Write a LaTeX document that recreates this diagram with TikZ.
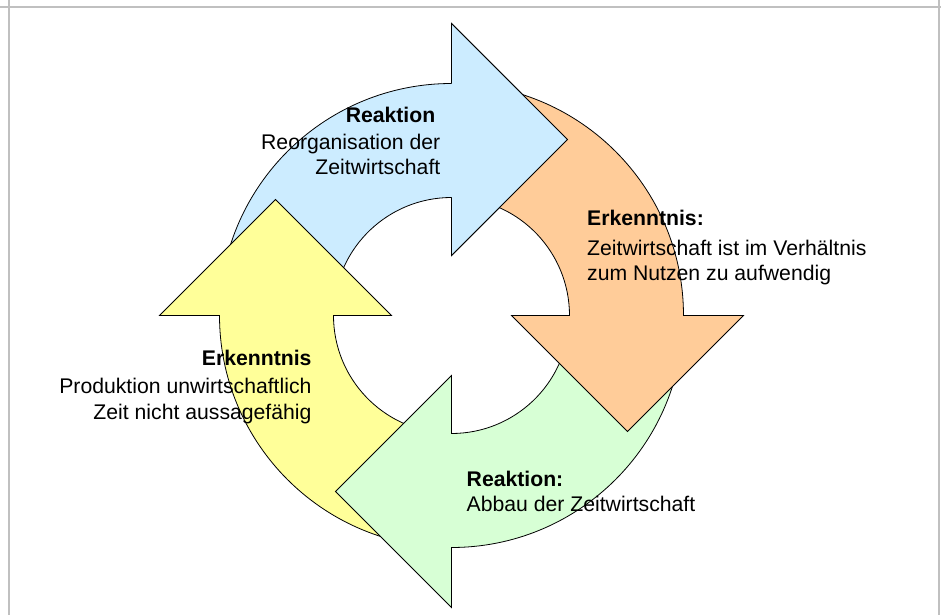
\documentclass[tikz,border=0pt]{standalone}
\usepackage{fontspec}
\setmainfont{Liberation Sans}
\definecolor{reactblue}{HTML}{CCECFF}
\definecolor{insightorange}{HTML}{FFCC99}
\definecolor{insightyellow}{HTML}{FFFF99}
\definecolor{reactgreen}{HTML}{D7FFD5}
\definecolor{framegray}{HTML}{C0C0C0}
\begin{document}
\begin{tikzpicture}[x=1pt,y=1pt] % cycle of four arrows
\tikzstyle{cyclearrow} = [draw=black, line width=0.8pt, line join=miter] % arrow outline
\tikzstyle{blocktext} = [inner sep=0pt, font=\fontsize{21.2pt}{25.7pt}\selectfont] % label text
\tikzstyle{framerule} = [draw=framegray, line width=2pt] % gray frame

\useasboundingbox (-451.5,-299.5) rectangle (489.5,315.5);
\draw[framerule] (-451.5,308.9) -- (489.5,308.9);
\draw[framerule] (-442,315.5) -- (-442,-299.5);
\draw[framerule] (487.8,315.5) -- (487.8,-299.5);

% blue arrow, top
\draw[cyclearrow, fill=reactblue] (177:232) arc[start angle=177, end angle=90, radius=232]
  -- (0,292) -- (116,176) -- (0,60) -- (0,118) arc[start angle=90, end angle=177, radius=118] -- cycle;
% yellow arrow, left
\draw[cyclearrow, fill=insightyellow, rotate=90] (177:232) arc[start angle=177, end angle=90, radius=232]
  -- (0,292) -- (116,176) -- (0,60) -- (0,118) arc[start angle=90, end angle=177, radius=118] -- cycle;
% green arrow, bottom
\draw[cyclearrow, fill=reactgreen, rotate=180] (177:232) arc[start angle=177, end angle=90, radius=232]
  -- (0,292) -- (116,176) -- (0,60) -- (0,118) arc[start angle=90, end angle=177, radius=118] -- cycle;
% orange arrow, right
\draw[cyclearrow, fill=insightorange, rotate=-90] (177:232) arc[start angle=177, end angle=90, radius=232]
  -- (0,292) -- (116,176) -- (0,60) -- (0,118) arc[start angle=90, end angle=177, radius=118] -- cycle;
% blue head again, over the orange tail
\fill[reactblue] (0,60) -- (0,292) -- (116,176) -- cycle;
\draw[cyclearrow] (0,232) -- (0,292) -- (116,176) -- (0,60) -- (0,118);

\node[blocktext, anchor=base east, align=right] (reorg) at (-11,140.5)
  {\textbf{Reaktion}\hspace*{5pt}\\[1pt] Reorganisation der\\ Zeitwirtschaft};
\node[blocktext, anchor=base west, align=left] (effort) at (135.5,34.5)
  {\textbf{Erkenntnis:}\\[4.3pt] Zeitwirtschaft ist im Verhältnis\\ zum Nutzen zu aufwendig};
\node[blocktext, anchor=base east, align=right] (waste) at (-139.8,-103.5)
  {\textbf{Erkenntnis}\\[2.6pt] Produktion unwirtschaftlich\\ Zeit nicht aussagefähig};
\node[blocktext, anchor=base west, align=left] (reduce) at (15,-196.2)
  {\textbf{Reaktion:}\\[-0.7pt] Abbau der Zeitwirtschaft};
\end{tikzpicture}
\end{document}
